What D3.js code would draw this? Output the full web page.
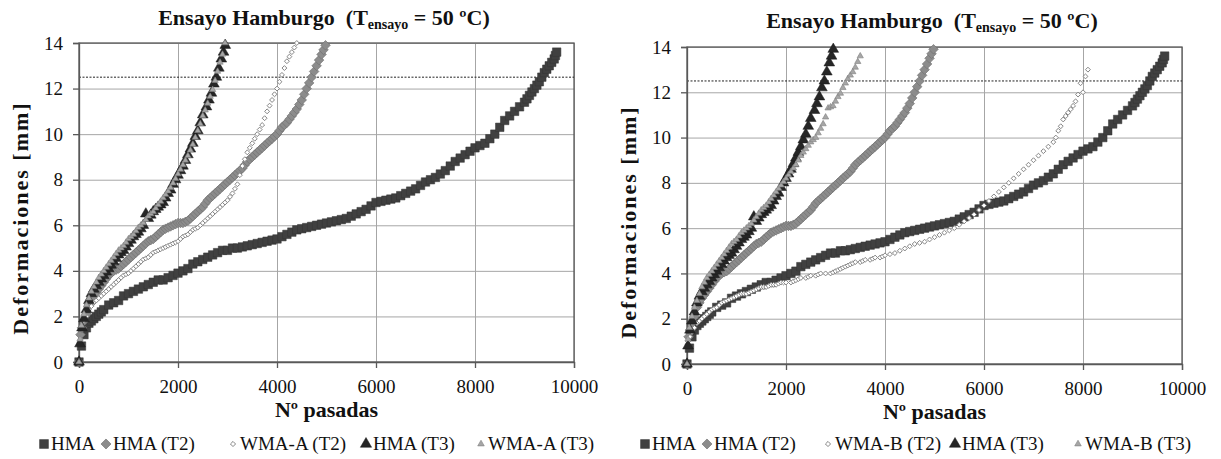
<!DOCTYPE html>
<html><head><meta charset="utf-8">
<script src="https://cdn.jsdelivr.net/npm/d3@7"></script>
<style>body{margin:0;background:#fff}svg{display:block}</style>
</head><body><svg id="c" width="1221" height="459"></svg>
<script>
// ---- data: [Nº pasadas, deformación mm] ----
const hma = [[0,0],[50,0.7],[100,1.2],[150,1.5],[200,1.7],[250,1.8],[300,1.9],[350,2.0],[400,2.1],[450,2.2],[500,2.3],[600,2.5],[700,2.6],[800,2.7],[900,2.9],[1000,3.0],[1100,3.1],[1200,3.2],[1300,3.3],[1400,3.4],[1500,3.5],[1600,3.6],[1700,3.6],[1800,3.7],[1900,3.8],[2000,3.9],[2100,4.0],[2200,4.1],[2300,4.3],[2400,4.4],[2500,4.5],[2600,4.6],[2700,4.7],[2800,4.8],[2900,4.9],[3000,4.9],[3100,5.0],[3200,5.0],[3300,5.05],[3400,5.1],[3500,5.15],[3600,5.2],[3700,5.25],[3800,5.3],[3900,5.35],[4000,5.4],[4100,5.5],[4200,5.6],[4300,5.7],[4400,5.8],[4500,5.85],[4600,5.9],[4700,5.95],[4800,6.0],[4900,6.05],[5000,6.1],[5100,6.15],[5200,6.2],[5300,6.25],[5400,6.3],[5500,6.4],[5600,6.5],[5700,6.6],[5800,6.7],[5900,6.85],[6000,7.0],[6100,7.05],[6200,7.1],[6300,7.15],[6400,7.2],[6500,7.3],[6600,7.4],[6700,7.5],[6800,7.6],[6900,7.75],[7000,7.9],[7100,8.0],[7200,8.1],[7300,8.25],[7400,8.4],[7500,8.6],[7600,8.8],[7700,8.95],[7800,9.1],[7900,9.25],[8000,9.4],[8100,9.5],[8200,9.6],[8300,9.8],[8400,10.0],[8500,10.3],[8600,10.6],[8700,10.8],[8800,11.0],[8900,11.2],[9000,11.4],[9050,11.55],[9100,11.7],[9150,11.85],[9200,12.0],[9250,12.15],[9300,12.3],[9350,12.5],[9400,12.7],[9450,12.85],[9500,13.0],[9550,13.15],[9600,13.3],[9625,13.45],[9650,13.6]];
const hmaT2 = [[0,0],[30,1.2],[60,1.5],[100,1.8],[150,2.1],[200,2.5],[250,2.7],[300,2.9],[350,3.05],[400,3.2],[450,3.35],[500,3.5],[550,3.65],[600,3.8],[650,3.9],[700,4.0],[750,4.05],[800,4.1],[850,4.2],[900,4.3],[950,4.4],[1000,4.5],[1050,4.6],[1100,4.7],[1150,4.8],[1200,4.9],[1250,5.0],[1300,5.1],[1350,5.2],[1400,5.3],[1450,5.35],[1500,5.4],[1550,5.5],[1600,5.6],[1650,5.7],[1700,5.8],[1750,5.85],[1800,5.9],[1850,5.95],[1900,6.0],[1950,6.05],[2000,6.1],[2050,6.1],[2100,6.1],[2150,6.15],[2200,6.2],[2250,6.3],[2300,6.4],[2350,6.5],[2400,6.6],[2450,6.7],[2500,6.8],[2550,6.95],[2600,7.1],[2650,7.2],[2700,7.3],[2750,7.4],[2800,7.5],[2850,7.6],[2900,7.7],[2950,7.8],[3000,7.9],[3050,8.0],[3100,8.1],[3150,8.2],[3200,8.3],[3250,8.4],[3300,8.5],[3350,8.65],[3400,8.8],[3450,8.9],[3500,9.0],[3550,9.1],[3600,9.2],[3650,9.3],[3700,9.4],[3750,9.5],[3800,9.6],[3850,9.7],[3900,9.8],[3950,9.9],[4000,10.0],[4050,10.15],[4100,10.3],[4150,10.4],[4200,10.5],[4250,10.65],[4300,10.8],[4350,10.95],[4400,11.1],[4450,11.3],[4500,11.5],[4550,11.75],[4600,12.0],[4650,12.25],[4700,12.5],[4750,12.75],[4800,13.0],[4850,13.25],[4900,13.5],[4940,13.7],[4980,13.9]];
const wmaAT2 = [[0,0],[30,1.0],[60,1.5],[100,1.8],[150,2.0],[200,2.3],[250,2.45],[300,2.6],[350,2.7],[400,2.8],[450,2.9],[500,3.0],[550,3.1],[600,3.2],[650,3.3],[700,3.4],[750,3.5],[800,3.6],[850,3.7],[900,3.8],[950,3.85],[1000,3.9],[1050,4.0],[1100,4.1],[1150,4.2],[1200,4.3],[1250,4.4],[1300,4.5],[1350,4.55],[1400,4.6],[1450,4.7],[1500,4.8],[1550,4.85],[1600,4.9],[1650,4.95],[1700,5.0],[1750,5.05],[1800,5.1],[1850,5.15],[1900,5.2],[1950,5.25],[2000,5.3],[2050,5.4],[2100,5.5],[2150,5.55],[2200,5.6],[2250,5.7],[2300,5.8],[2350,5.85],[2400,5.9],[2450,6.0],[2500,6.1],[2550,6.2],[2600,6.3],[2650,6.4],[2700,6.5],[2750,6.6],[2800,6.7],[2850,6.8],[2900,6.9],[2950,7.0],[3000,7.1],[3050,7.25],[3100,7.4],[3150,7.6],[3200,7.8],[3250,8.2],[3300,8.6],[3350,8.9],[3400,9.2],[3450,9.4],[3500,9.6],[3550,9.8],[3600,10.0],[3650,10.2],[3700,10.4],[3750,10.7],[3800,11.0],[3850,11.25],[3900,11.5],[3950,11.75],[4000,12.0],[4050,12.3],[4100,12.6],[4150,12.9],[4200,13.2],[4250,13.4],[4300,13.6],[4350,13.8],[4400,14.0]];
const hmaT3 = [[0,0],[20,0.8],[60,1.5],[100,1.9],[150,2.3],[200,2.7],[250,3.0],[300,3.2],[350,3.35],[400,3.5],[450,3.65],[500,3.8],[550,3.95],[600,4.1],[650,4.25],[700,4.4],[750,4.55],[800,4.7],[850,4.8],[900,4.9],[950,5.05],[1000,5.2],[1050,5.35],[1100,5.5],[1150,5.6],[1200,5.7],[1250,5.85],[1300,6.0],[1350,6.5],[1400,6.3],[1450,6.45],[1500,6.6],[1550,6.7],[1600,6.8],[1650,6.9],[1700,7.0],[1750,7.2],[1800,7.4],[1850,7.55],[1900,7.8],[1950,8.0],[2000,8.2],[2050,8.4],[2100,8.6],[2150,8.85],[2200,9.1],[2250,9.35],[2300,9.6],[2350,9.9],[2400,10.15],[2450,10.5],[2500,10.85],[2575,11.2],[2625,11.5],[2675,11.8],[2725,12.2],[2775,12.5],[2825,12.9],[2875,13.3],[2920,13.6],[2955,13.9]];
const wmaAT3 = [[0,0],[20,1.0],[50,1.6],[100,2.1],[150,2.5],[200,2.8],[250,3.1],[300,3.3],[350,3.5],[400,3.7],[450,3.85],[500,4.0],[550,4.15],[600,4.3],[650,4.45],[700,4.6],[750,4.75],[800,4.9],[850,5.0],[900,5.1],[950,5.25],[1000,5.4],[1050,5.5],[1100,5.6],[1150,5.75],[1200,5.9],[1250,6.0],[1300,6.1],[1350,6.25],[1400,6.4],[1450,6.5],[1500,6.6],[1550,6.75],[1600,6.9],[1650,7.05],[1700,7.2],[1750,7.35],[1800,7.5],[1850,7.65],[1900,7.85],[1950,8.05],[2000,8.25],[2050,8.45],[2100,8.65],[2150,8.85],[2200,9.05],[2250,9.3],[2300,9.55],[2350,9.85],[2400,10.15],[2450,10.45],[2500,10.8],[2550,11.05],[2600,11.35],[2650,11.65],[2700,11.95],[2750,12.35],[2800,12.75],[2850,13.15],[2900,13.5],[2950,14.0]];
const wmaBT2 = [[0,0],[20,1.0],[60,1.2],[100,1.4],[150,1.6],[200,1.8],[250,1.9],[300,2.0],[350,2.1],[400,2.2],[450,2.3],[500,2.4],[550,2.45],[600,2.5],[650,2.6],[700,2.7],[750,2.75],[800,2.8],[850,2.85],[900,2.9],[950,2.95],[1000,3.0],[1050,3.05],[1100,3.1],[1150,3.1],[1200,3.1],[1250,3.15],[1300,3.2],[1350,3.25],[1400,3.3],[1450,3.35],[1500,3.4],[1550,3.4],[1600,3.4],[1650,3.45],[1700,3.5],[1750,3.5],[1800,3.5],[1850,3.55],[1900,3.6],[1950,3.6],[2000,3.6],[2100,3.6],[2150,3.65],[2200,3.7],[2250,3.75],[2300,3.8],[2400,3.8],[2450,3.85],[2500,3.9],[2600,3.9],[2650,3.95],[2700,4.0],[2800,4.0],[2900,4.0],[2950,4.05],[3000,4.1],[3050,4.15],[3100,4.2],[3150,4.25],[3200,4.3],[3250,4.35],[3300,4.4],[3350,4.45],[3400,4.5],[3500,4.5],[3550,4.55],[3600,4.6],[3700,4.6],[3750,4.65],[3800,4.7],[3900,4.7],[3950,4.75],[4000,4.8],[4100,4.85],[4200,4.9],[4300,5.0],[4400,5.1],[4500,5.2],[4600,5.3],[4700,5.35],[4800,5.4],[4900,5.5],[5000,5.6],[5100,5.7],[5200,5.8],[5300,5.9],[5400,6.0],[5500,6.15],[5600,6.3],[5700,6.45],[5800,6.6],[5900,6.8],[6000,7.0],[6100,7.2],[6200,7.4],[6300,7.6],[6400,7.8],[6500,8.0],[6600,8.2],[6700,8.4],[6800,8.6],[6900,8.8],[7000,9.0],[7100,9.2],[7200,9.4],[7300,9.6],[7400,9.8],[7450,10.0],[7500,10.3],[7550,10.5],[7600,10.8],[7650,10.95],[7700,11.1],[7750,11.25],[7800,11.4],[7850,11.6],[7900,11.9],[7950,12.4],[8000,12.0],[8050,12.7],[8100,13.0]];
const wmaBT3 = [[0,0],[20,1.1],[50,1.6],[100,2.1],[150,2.5],[200,2.8],[250,3.1],[300,3.4],[350,3.6],[400,3.8],[450,3.95],[500,4.1],[550,4.25],[600,4.4],[650,4.55],[700,4.7],[750,4.85],[800,5.0],[850,5.15],[900,5.3],[950,5.4],[1000,5.5],[1050,5.65],[1100,5.8],[1150,5.9],[1200,6.0],[1250,6.1],[1300,6.2],[1350,6.35],[1400,6.5],[1450,6.65],[1500,6.8],[1550,6.9],[1600,7.0],[1650,7.15],[1700,7.3],[1750,7.45],[1800,7.6],[1850,7.75],[1900,7.9],[1950,8.05],[2000,8.2],[2050,8.35],[2100,8.5],[2150,8.65],[2200,8.8],[2250,9.0],[2300,9.2],[2350,9.35],[2400,9.5],[2450,9.65],[2500,9.8],[2550,9.9],[2600,10.0],[2650,10.2],[2700,10.4],[2750,10.6],[2800,10.9],[2850,11.3],[2900,11.35],[2950,11.4],[3000,11.6],[3050,11.8],[3100,11.95],[3150,12.2],[3200,12.4],[3250,12.6],[3300,12.75],[3350,12.9],[3400,13.1],[3450,13.35],[3500,13.6]];
const xTicks = [0,2000,4000,6000,8000,10000];
const yTicks = [0,2,4,6,8,10,12,14];
const limit = 12.5;
const legendLeft = ["HMA","HMA (T2)","WMA-A (T2)","HMA (T3)","WMA-A (T3)"];
const legendRight = ["HMA","HMA (T2)","WMA-B (T2)","HMA (T3)","WMA-B (T3)"];

const svg = d3.select("#c");
const serif = "'Liberation Serif','Times New Roman',serif";

const styles = [
  {type:d3.symbolSquare, size:72, rot:0, fill:"#404040", stroke:"#353535", sw:0.5},
  {type:d3.symbolSquare, size:46, rot:45, fill:"#8c8c8c", stroke:"#707070", sw:0.6},
  {type:d3.symbolSquare, size:12, rot:45, fill:"#fff", stroke:"#7f7f7f", sw:0.9},
  {type:d3.symbolTriangle, size:50, rot:0, fill:"#262626", stroke:"#1a1a1a", sw:0.5},
  {type:d3.symbolTriangle, size:17, rot:0, fill:"#a6a6a6", stroke:"#7f7f7f", sw:0.6}
];

function panel(cfg){
  const g = svg.append("g");
  const x = d3.scaleLinear().domain([0,10000]).range([cfg.x0,cfg.x1]);
  const y = d3.scaleLinear().domain([0,14]).range([cfg.y1,cfg.y0]);
  g.append("g").attr("transform",`translate(0,${cfg.y1})`)
    .call(d3.axisBottom(x).tickValues(xTicks).tickSize(-(cfg.y1-cfg.y0)).tickFormat(""))
    .call(a=>a.select(".domain").remove())
    .call(a=>a.selectAll("line").attr("stroke","#a6a6a6").attr("stroke-width",1));
  g.append("g").attr("transform",`translate(${cfg.x0},0)`)
    .call(d3.axisLeft(y).tickValues(yTicks).tickSize(-(cfg.x1-cfg.x0)).tickFormat(""))
    .call(a=>a.select(".domain").remove())
    .call(a=>a.selectAll("line").attr("stroke","#a6a6a6").attr("stroke-width",1));
  g.append("rect").attr("x",cfg.x0).attr("y",cfg.y0).attr("width",cfg.x1-cfg.x0).attr("height",cfg.y1-cfg.y0)
    .attr("fill","none").attr("stroke","#595959").attr("stroke-width",1.3);
  g.append("line").attr("x1",cfg.x0).attr("x2",cfg.x1).attr("y1",y(limit)).attr("y2",y(limit))
    .attr("stroke","#222").attr("stroke-width",1).attr("stroke-dasharray","2,1.5");
  const ax = g.append("g").attr("transform",`translate(0,${cfg.y1})`)
    .call(d3.axisBottom(x).tickValues(xTicks).tickSize(6).tickPadding(12).tickFormat(d3.format("d")));
  const ay = g.append("g").attr("transform",`translate(${cfg.x0},0)`)
    .call(d3.axisLeft(y).tickValues(yTicks).tickSize(6).tickPadding(10).tickFormat(d3.format("d")));
  [ax,ay].forEach(a=>{
    a.attr("font-family",serif).attr("font-size",19);
    a.select(".domain").attr("stroke","#595959").attr("stroke-width",1.3);
    a.selectAll("line").attr("stroke","#595959").attr("stroke-width",1.3);
    a.selectAll("text").attr("font-family",serif).attr("font-size",19).attr("fill","#111");
  });
  cfg.series.forEach((data,i)=>{
    const s = styles[i];
    const sym = d3.symbol().type(s.type).size(s.size);
    g.append("g").selectAll("path").data(data).join("path")
      .attr("d",sym)
      .attr("transform",d=>`translate(${x(d[0])},${y(d[1])}) rotate(${s.rot})`)
      .attr("fill",s.fill).attr("stroke",s.stroke).attr("stroke-width",s.sw);
  });
  const t = g.append("text").attr("x",cfg.tx).attr("y",cfg.ty).attr("text-anchor","middle")
    .attr("font-family",serif).attr("font-weight","bold").attr("font-size",22).attr("fill","#111");
  t.append("tspan").text("Ensayo Hamburgo\u00a0 (T");
  t.append("tspan").attr("font-size",14).attr("dy",4).text("ensayo");
  t.append("tspan").attr("dy",-4).text(" = 50 ºC)");
  g.append("text").attr("x",(cfg.x0+cfg.x1)/2).attr("y",cfg.y1+55).attr("text-anchor","middle")
    .attr("font-family",serif).attr("font-weight","bold").attr("font-size",22).attr("fill","#111")
    .text("Nº pasadas");
  g.append("text").attr("transform",`translate(${cfg.ylx},${cfg.yly}) rotate(-90)`)
    .attr("text-anchor","middle").attr("font-family",serif).attr("font-weight","bold")
    .attr("font-size",22).attr("letter-spacing",2).attr("fill","#111").text("Deformaciones [mm]");
  const lg = g.append("g");
  cfg.legend.forEach((lab,i)=>{
    const s = styles[i];
    const lx = cfg.legX[i];
    lg.append("path").attr("d",d3.symbol().type(s.type).size(s.size*1.1))
      .attr("transform",`translate(${lx},${cfg.legY-6}) rotate(${s.rot})`)
      .attr("fill",s.fill).attr("stroke",s.stroke).attr("stroke-width",s.sw);
    lg.append("text").attr("x",lx+7).attr("y",cfg.legY).attr("font-family",serif)
      .attr("font-size",19).attr("fill","#111").text(lab);
  });
}

panel({x0:79,x1:574,y0:43,y1:362,tx:324,ty:25,ylx:28,yly:218,
  series:[hma,hmaT2,wmaAT2,hmaT3,wmaAT3],legend:legendLeft,
  legX:[44,106,233,366,481],legY:450});
panel({x0:687,x1:1182,y0:47,y1:364,tx:932,ty:28,ylx:636,yly:222,
  series:[hma,hmaT2,wmaBT2,hmaT3,wmaBT3],legend:legendRight,
  legX:[645,707,828,955,1078],legY:450});
</script>
</body></html>
